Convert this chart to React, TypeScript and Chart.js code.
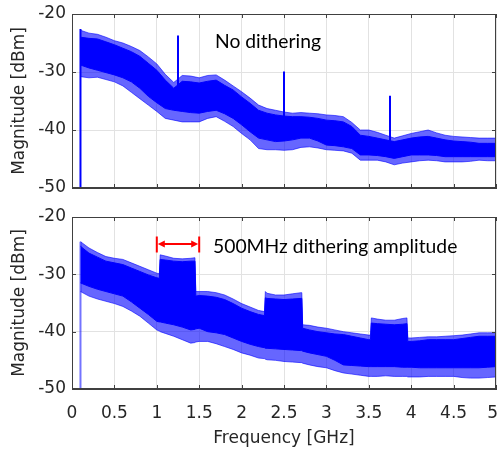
import React, { useEffect, useRef } from "react";
import { Chart, registerables } from "chart.js";
Chart.register(...registerables);

// ---------- Top panel: no dithering ----------
const topFreq = [0.1, 0.2, 0.3, 0.4, 0.5, 0.6, 0.7, 0.8, 0.9, 1.0, 1.1, 1.2, 1.3, 1.4, 1.5, 1.6, 1.7, 1.8, 1.9, 2.0, 2.1, 2.2, 2.3, 2.4, 2.5, 2.6, 2.7, 2.8, 2.9, 3.0, 3.1, 3.2, 3.3, 3.4, 3.5, 3.6, 3.7, 3.8, 3.9, 4.0, 4.1, 4.2, 4.3, 4.4, 4.5, 4.6, 4.7, 4.8, 4.9, 5.0];
const topOuterUpper = [-22.8, -23.3, -23.5, -24.0, -24.6, -25.0, -25.6, -26.3, -27.4, -28.6, -30.4, -31.8, -30.6, -30.7, -31.0, -30.6, -30.5, -31.4, -32.4, -33.4, -34.5, -35.7, -36.3, -36.6, -36.9, -37.1, -37.0, -37.1, -37.2, -37.4, -37.5, -37.7, -38.7, -40.0, -40.0, -40.4, -40.9, -41.4, -41.0, -40.6, -40.3, -40.0, -40.5, -40.9, -41.1, -41.2, -41.3, -41.4, -41.4, -41.4];
const topCoreUpper = [-24.0, -24.2, -24.3, -24.8, -25.3, -25.9, -26.5, -27.3, -28.5, -29.7, -31.4, -32.8, -31.6, -31.7, -31.9, -31.6, -31.4, -32.3, -33.1, -34.3, -35.4, -36.6, -37.1, -37.4, -37.6, -37.7, -37.7, -37.8, -38.0, -38.3, -38.4, -38.6, -39.4, -40.9, -41.1, -41.4, -41.7, -42.0, -41.7, -41.4, -41.2, -41.1, -41.4, -41.7, -41.9, -42.0, -42.1, -42.3, -42.3, -42.3];
const topCoreLower = [-28.8, -29.3, -29.7, -30.1, -30.5, -31.0, -31.7, -32.8, -34.2, -35.3, -36.3, -36.6, -36.8, -37.0, -37.1, -36.8, -36.6, -37.2, -38.0, -39.1, -40.3, -41.4, -41.7, -42.0, -41.9, -41.7, -41.4, -41.4, -41.9, -42.6, -42.7, -42.9, -43.2, -44.3, -44.3, -44.4, -44.6, -44.9, -44.6, -44.3, -44.3, -44.3, -44.4, -44.6, -44.6, -44.6, -44.6, -44.6, -44.6, -44.6];
const topOuterLower = [-30.8, -31.0, -30.9, -31.3, -31.7, -32.4, -33.5, -34.6, -35.7, -36.8, -38.0, -38.3, -38.6, -38.6, -38.6, -38.0, -37.7, -38.5, -39.4, -40.6, -41.7, -43.2, -43.4, -43.4, -43.5, -43.4, -43.0, -42.9, -43.1, -43.4, -43.5, -43.6, -44.0, -45.2, -45.2, -45.2, -45.5, -46.0, -45.7, -45.5, -45.3, -45.2, -45.3, -45.5, -45.5, -45.5, -45.4, -45.2, -45.3, -45.3];
const topSpikeFreq = [0.1, 1.25, 2.5, 3.75, 5.0];
const topSpikeTop = [-22.6, -23.7, -29.9, -34.1, -36.8];
const topSpikeBase = [-50, -36.6, -41.9, -44.7, -44.6];

// ---------- Bottom panel: 500 MHz dithering ----------
const botFreq = [0.1, 0.2, 0.3, 0.4, 0.5, 0.6, 0.7, 0.8, 0.9, 1.0, 1.03, 1.04, 1.1, 1.2, 1.3, 1.4, 1.45, 1.46, 1.5, 1.6, 1.7, 1.8, 1.9, 2.0, 2.1, 2.2, 2.27, 2.28, 2.3, 2.4, 2.5, 2.6, 2.7, 2.71, 2.72, 2.8, 2.9, 3.0, 3.1, 3.2, 3.3, 3.4, 3.5, 3.52, 3.53, 3.6, 3.7, 3.8, 3.9, 3.95, 3.96, 4.0, 4.1, 4.2, 4.3, 4.4, 4.5, 4.6, 4.7, 4.8, 4.9, 5.0];
const botOuterUpper = [-24.3, -25.4, -26.2, -26.9, -27.2, -27.4, -28.0, -28.6, -29.2, -29.8, -29.9, -26.6, -26.8, -27.2, -27.3, -27.2, -27.1, -33.0, -33.0, -33.0, -33.2, -33.6, -34.3, -35.1, -35.7, -36.3, -36.5, -33.0, -33.3, -33.6, -33.6, -33.4, -33.2, -33.2, -38.8, -38.9, -39.2, -39.4, -39.7, -40.0, -40.2, -40.4, -40.6, -40.6, -37.6, -37.8, -38.0, -38.0, -37.7, -37.6, -41.1, -41.1, -41.0, -40.9, -40.9, -40.8, -40.7, -40.6, -40.4, -40.2, -40.2, -40.2];
const botCoreUpper = [-25.1, -26.3, -27.0, -27.7, -28.0, -28.3, -28.9, -29.5, -30.1, -30.6, -30.7, -27.4, -27.5, -27.7, -27.8, -27.7, -27.7, -33.8, -33.7, -33.8, -34.0, -34.4, -35.1, -35.9, -36.5, -37.0, -37.2, -34.1, -34.2, -34.3, -34.4, -34.3, -34.2, -34.2, -39.4, -39.7, -40.0, -40.2, -40.4, -40.5, -40.8, -41.1, -41.4, -41.4, -38.5, -38.6, -38.7, -38.8, -38.7, -38.6, -41.7, -41.7, -41.6, -41.4, -41.4, -41.4, -41.4, -41.2, -41.0, -40.8, -40.8, -40.8];
const botCoreLower = [-31.5, -32.1, -32.6, -33.0, -33.4, -33.8, -34.8, -35.9, -37.0, -38.2, -38.3, -38.3, -38.5, -38.8, -39.2, -39.7, -39.6, -39.5, -39.4, -40.0, -40.2, -40.5, -41.1, -41.7, -42.2, -42.6, -42.8, -42.9, -42.9, -43.0, -43.1, -43.2, -43.3, -43.3, -43.4, -43.7, -44.0, -44.3, -45.0, -45.8, -45.9, -46.0, -46.1, -46.1, -46.1, -46.1, -46.1, -46.1, -46.2, -46.2, -46.2, -46.2, -46.3, -46.3, -46.3, -46.3, -46.3, -46.3, -46.3, -46.3, -46.2, -46.1];
const botOuterLower = [-33.0, -33.8, -34.3, -34.7, -35.1, -35.6, -36.4, -37.3, -38.5, -39.7, -39.9, -40.0, -40.3, -40.8, -41.4, -42.0, -41.9, -41.8, -41.7, -41.7, -42.1, -42.6, -43.1, -43.7, -44.1, -44.6, -44.7, -44.8, -44.9, -45.0, -45.2, -45.3, -45.4, -45.4, -45.5, -45.8, -46.1, -46.3, -46.8, -47.2, -47.4, -47.6, -47.8, -47.8, -47.8, -47.8, -47.7, -47.8, -47.8, -47.8, -47.9, -47.9, -47.9, -47.8, -47.8, -47.8, -47.8, -48.0, -48.1, -48.1, -48.0, -47.9];
const botSpikeFreq = [0.1];
const botSpikeTop = [-24.3];
const botSpikeBase = [-50];

// ---------- Axes / annotations ----------
const xMin = 0, xMax = 5, xStep = 0.5;
const yMin = -50, yMax = -20, yStep = 10;
const topLabel = "No dithering";
const topLabelAt = [1.686, -25.9];
const botLabel = "500MHz dithering amplitude";
const botLabelAt = [1.663, -26.3];
const arrowFrom = 1.0, arrowTo = 1.5, arrowY = -24.7, arrowBarTop = -23.4, arrowBarBot = -26.2;

const BLUE = "#0000ff";
const BLUE_LIGHT = "rgba(0,0,255,0.6)";
const SPIKE_LIGHT = "rgba(0,0,255,0.55)";
const AXIS = "#404040";
const GRID = "#e2e2e2";
const TEXT = "#262626";

function pts(xs: number[], ys: number[]) {
  return xs.map((x, i) => ({ x, y: ys[i] }));
}
function spikePts(fs: number[], tops: number[], bases: number[]) {
  const out: any[] = [];
  fs.forEach((f, i) => {
    out.push({ x: f, y: tops[i] }, { x: f, y: bases[i] }, { x: f, y: null });
  });
  return out;
}

const framePlugin = {
  id: "frame",
  afterDatasetsDraw(chart: any, _args: any, opts: any) {
    const { ctx, chartArea: a, scales } = chart;
    const x = scales.x, y = scales.y;
    ctx.save();
    ctx.strokeStyle = AXIS;
    ctx.lineWidth = 1;
    ctx.strokeRect(Math.round(a.left) + 0.5, Math.round(a.top) + 0.5, Math.round(a.right - a.left) - 1, Math.round(a.bottom - a.top) - 1);
    ctx.beginPath();
    x.ticks.forEach((t: any) => {
      const px = Math.round(x.getPixelForValue(t.value)) + 0.5;
      ctx.moveTo(px, a.bottom); ctx.lineTo(px, a.bottom - 4);
      ctx.moveTo(px, a.top); ctx.lineTo(px, a.top + 4);
    });
    y.ticks.forEach((t: any) => {
      const py = Math.round(y.getPixelForValue(t.value)) + 0.5;
      ctx.moveTo(a.left, py); ctx.lineTo(a.left + 4, py);
      ctx.moveTo(a.right, py); ctx.lineTo(a.right - 4, py);
    });
    ctx.stroke();
    if (opts.label) {
      ctx.fillStyle = "#000";
      ctx.font = "19.3px Lato";
      ctx.textBaseline = "alphabetic";
      ctx.textAlign = "left";
      ctx.fillText(opts.label, x.getPixelForValue(opts.labelAt[0]), y.getPixelForValue(opts.labelAt[1]));
    }
    if (opts.arrow) {
      const x1 = x.getPixelForValue(arrowFrom), x2 = x.getPixelForValue(arrowTo);
      const ay = y.getPixelForValue(arrowY);
      const yt = y.getPixelForValue(arrowBarTop), yb = y.getPixelForValue(arrowBarBot);
      ctx.strokeStyle = "#ff0000";
      ctx.fillStyle = "#ff0000";
      ctx.lineWidth = 2;
      ctx.beginPath();
      ctx.moveTo(x1, yt); ctx.lineTo(x1, yb);
      ctx.moveTo(x2, yt); ctx.lineTo(x2, yb);
      ctx.moveTo(x1 + 4, ay); ctx.lineTo(x2 - 4, ay);
      ctx.stroke();
      ctx.beginPath();
      ctx.moveTo(x1 + 1, ay); ctx.lineTo(x1 + 8, ay - 3.5); ctx.lineTo(x1 + 8, ay + 3.5); ctx.closePath();
      ctx.moveTo(x2 - 1, ay); ctx.lineTo(x2 - 8, ay - 3.5); ctx.lineTo(x2 - 8, ay + 3.5); ctx.closePath();
      ctx.fill();
    }
    ctx.restore();
  },
};

function makeConfig(p: {
  freq: number[]; ou: number[]; cu: number[]; cl: number[]; ol: number[];
  sf: number[]; st: number[]; sb: number[]; showX: boolean; padTop: number; xHeight: number;
  label: string; labelAt: number[]; arrow: boolean; spikeColor: string;
}) {
  const line = (data: any, color: string, fill: any) => ({
    type: "line", data, borderColor: color, backgroundColor: color, borderWidth: 1,
    pointRadius: 0, fill, tension: 0, spanGaps: false,
  });
  return {
    type: "line",
    data: {
      datasets: [
        { ...line(spikePts(p.sf, p.st, p.sb), p.spikeColor, false), borderWidth: 2 },
        line(pts(p.freq, p.cu), BLUE, 2),
        line(pts(p.freq, p.cl), BLUE, false),
        line(pts(p.freq, p.ou), BLUE_LIGHT, 4),
        line(pts(p.freq, p.ol), BLUE_LIGHT, false),
      ],
    },
    options: {
      animation: false, responsive: false, devicePixelRatio: 1,
      layout: { padding: { left: 0, right: 4, top: p.padTop, bottom: 0 } },
      plugins: {
        legend: { display: false }, tooltip: { enabled: false },
        frame: { label: p.label, labelAt: p.labelAt, arrow: p.arrow },
      },
      scales: {
        x: {
          type: "linear", min: xMin, max: xMax, offset: false,
          ticks: {
            display: p.showX, stepSize: xStep, color: TEXT, font: { family: "DejaVu Sans", size: 17 }, padding: 14, maxRotation: 0,
            callback: (v: number) => (v === xMax ? String(v) + "\u2009\u2009" : String(v)),
          },
          grid: { color: GRID, drawTicks: false },
          border: { color: AXIS },
          title: { display: p.showX, text: "Frequency [GHz]", color: TEXT, font: { family: "DejaVu Sans", size: 17 }, padding: { top: 0, bottom: 0 } },
          afterFit: (s: any) => { s.height = p.xHeight; s.paddingLeft = 0; s.paddingRight = 0; },
        },
        y: {
          type: "linear", min: yMin, max: yMax,
          ticks: { stepSize: yStep, color: TEXT, font: { family: "DejaVu Sans", size: 17 }, padding: 6 },
          grid: { color: GRID, drawTicks: false },
          border: { color: AXIS },
          title: { display: true, text: "Magnitude [dBm]", color: TEXT, font: { family: "DejaVu Sans", size: 17 }, padding: { top: 9, bottom: 0 } },
          afterFit: (s: any) => { s.width = 72; s.paddingTop = 0; s.paddingBottom = 0; },
        },
      },
    },
    plugins: [framePlugin],
  } as any;
}

function Panel(props: { cfg: any; height: number; top: number }) {
  const ref = useRef<HTMLCanvasElement>(null);
  useEffect(() => {
    const chart = new Chart(ref.current as HTMLCanvasElement, props.cfg);
    return () => chart.destroy();
  }, []);
  return (
    <canvas ref={ref} width={500} height={props.height}
      style={{ position: "absolute", left: 0, top: props.top, width: 500, height: props.height, display: "block" }} />
  );
}

export default function App() {
  const topCfg = makeConfig({
    freq: topFreq, ou: topOuterUpper, cu: topCoreUpper, cl: topCoreLower, ol: topOuterLower,
    sf: topSpikeFreq, st: topSpikeTop, sb: topSpikeBase, showX: false, padTop: 14, xHeight: 12,
    label: topLabel, labelAt: topLabelAt, arrow: false, spikeColor: BLUE,
  });
  const botCfg = makeConfig({
    freq: botFreq, ou: botOuterUpper, cu: botCoreUpper, cl: botCoreLower, ol: botOuterLower,
    sf: botSpikeFreq, st: botSpikeTop, sb: botSpikeBase, showX: true, padTop: 17, xHeight: 60,
    label: botLabel, labelAt: botLabelAt, arrow: true, spikeColor: SPIKE_LIGHT,
  });
  return (
    <div style={{ position: "absolute", left: 0, top: 0, width: 500, height: 449, background: "#fff" }}>
      <Panel cfg={topCfg} height={200} top={0} />
      <Panel cfg={botCfg} height={249} top={200} />
    </div>
  );
}
